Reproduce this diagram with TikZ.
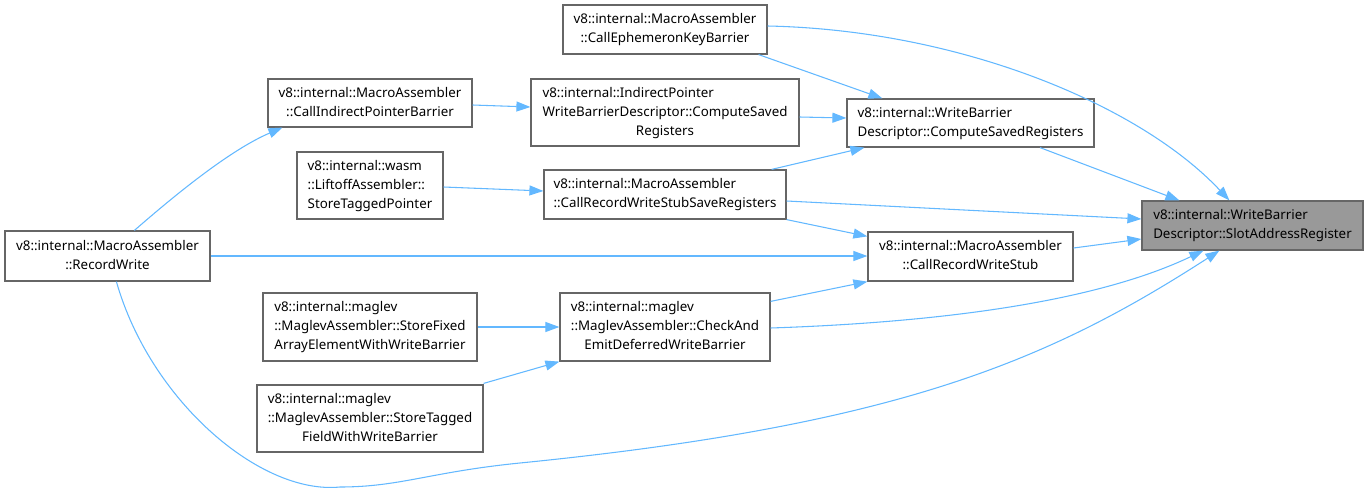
\documentclass[tikz,border=0pt]{standalone}
\usepackage{fontspec}
\setmainfont{Noto Sans}
\usetikzlibrary{calc,arrows.meta}
\definecolor{edgeblue}{HTML}{63B8FF}
\definecolor{boxline}{HTML}{666666}
\definecolor{hilite}{HTML}{999999}
\newcommand{\lbl}[1]{\begin{tabular}{@{}l@{}}#1\end{tabular}}
\newcommand{\lastc}[1]{\multicolumn{1}{@{}c@{}}{#1}}
\tikzset{
  x=0.75pt, y=-0.75pt,
  box/.style={draw=boxline, fill=white, line width=0.9pt, inner sep=0pt, anchor=center,
    font=\fontsize{10}{14.25}\selectfont},
  hbox/.style={box, fill=hilite},
  edge/.style={draw=edgeblue, line width=0.8pt, -{Triangle[length=10.5pt,width=7.5pt]}},
}
\newcommand{\bx}[6][box]{\node[#1, minimum width=#4*0.75pt, minimum height=#5*0.75pt] (#2) at #3 {#6};}
\begin{document}
\begin{tikzpicture}
\useasboundingbox (0,0) rectangle (1368,493);
\bx{eph}{(665,29.5)}{204}{49}{\lbl{v8::internal::MacroAssembler\\\lastc{::CallEphemeronKeyBarrier}}}
\bx{cipb}{(370,103)}{204}{48}{\lbl{v8::internal::MacroAssembler\\\lastc{::CallIndirectPointerBarrier}}}
\bx{ipwb}{(665,112.5)}{268}{67}{\lbl{v8::internal::IndirectPointer\\WriteBarrierDescriptor::ComputeSaved\\\lastc{Registers}}}
\bx{wbcsr}{(970.5,123)}{247}{48}{\lbl{v8::internal::WriteBarrier\\\lastc{Descriptor::ComputeSavedRegisters}}}
\bx[hbox]{slot}{(1252.5,225.5)}{221}{49}{\lbl{v8::internal::WriteBarrier\\\lastc{Descriptor::SlotAddressRegister}}}
\bx{lift}{(370,185.5)}{146}{67}{\lbl{v8::internal::wasm\\::LiftoffAssembler::\\\lastc{StoreTaggedPointer}}}
\bx{crwssr}{(665,194.5)}{242}{49}{\lbl{v8::internal::MacroAssembler\\\lastc{::CallRecordWriteStubSaveRegisters}}}
\bx{rw}{(107.5,256)}{205}{50}{\lbl{v8::internal::MacroAssembler\\\lastc{::RecordWrite}}}
\bx{crws}{(970.5,256.5)}{205}{49}{\lbl{v8::internal::MacroAssembler\\\lastc{::CallRecordWriteStub}}}
\bx{sfa}{(370,327)}{214}{68}{\lbl{v8::internal::maglev\\::MaglevAssembler::StoreFixed\\\lastc{ArrayElementWithWriteBarrier}}}
\bx{cae}{(665,327)}{210}{68}{\lbl{v8::internal::maglev\\::MaglevAssembler::CheckAnd\\\lastc{EmitDeferredWriteBarrier}}}
\bx{stf}{(370,418.5)}{226}{67}{\lbl{v8::internal::maglev\\::MaglevAssembler::StoreTagged\\\lastc{FieldWithWriteBarrier}}}

% edges
\draw[edge] ($(eph.east)+(0,-3.5)$) .. controls (960,30) and (1140,105) .. ($(slot.north west)+(88,0)$);
\draw[edge] ($(eph.south east)+(-9,0)$) -- ($(wbcsr.north west)+(36,0)$);
\draw[edge] ($(cipb.east)+(0,2)$) -- ($(ipwb.west)+(0,-5.5)$);
\draw[edge] ($(ipwb.east)+(0,4.5)$) -- ($(wbcsr.west)+(0,-5)$);
\draw[edge] ($(wbcsr.south)+(69.5,0)$) -- ($(slot.north west)+(38,0)$);
\draw[edge] ($(crwssr.north east)+(-15,0)$) -- ($(wbcsr.south west)+(18,0)$);
\draw[edge] ($(lift.east)+(0,1.5)$) -- ($(crwssr.west)+(0,-3.5)$);
\draw[edge] ($(crwssr.east)+(0,6.5)$) -- ($(slot.west)+(0,-6.5)$);
\draw[edge] (crwssr.south east) -- ($(crws.north west)+(0,5)$);
\draw[edge] (rw.east) -- (crws.west |- rw.east);
\draw[edge] ($(crws.east)+(0,-8.5)$) -- ($(slot.west)+(0,13.5)$);
\draw[edge] ($(rw.north west)+(130,0)$) .. controls (175,195) and (230,150) .. ($(cipb.south west)+(15,0)$);
\draw[edge] ($(rw.south west)+(112,0)$) .. controls (150,400) and (260,495) .. (340,487)
  .. controls (400,487) and (430,472) .. (520,463)
  .. controls (900,425) and (1050,360) .. ($(slot.south west)+(78,0)$);
\draw[edge] ($(cae.north east)+(0,9)$) -- (crws.south west);
\draw[edge] ($(cae.east)+(0,1)$) .. controls (950,322) and (1100,300) .. ($(slot.south west)+(62,0)$);
\draw[edge] (sfa.east) -- (cae.west);
\draw[edge] ($(stf.north east)+(0,-1)$) -- (cae.south west);
\end{tikzpicture}
\end{document}
